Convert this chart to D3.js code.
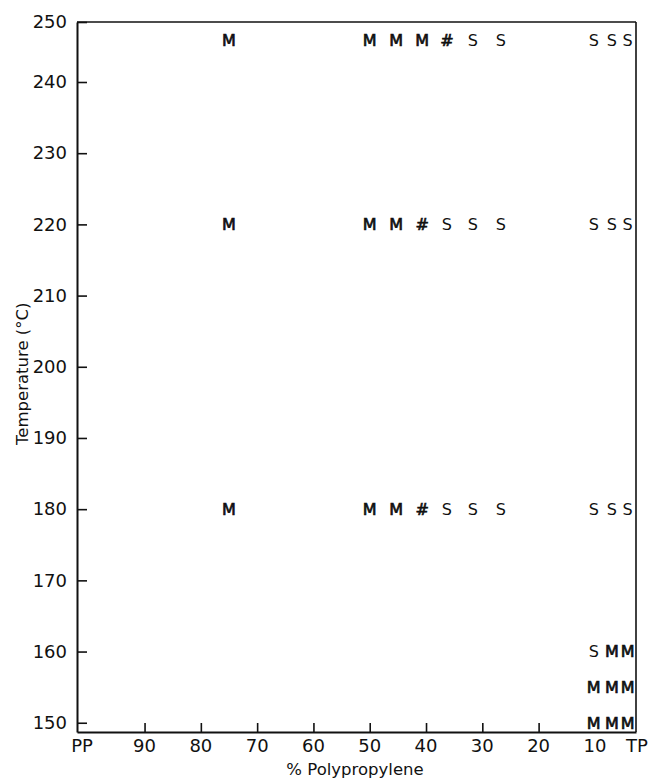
<!DOCTYPE html>
<html>
<head>
<meta charset="utf-8">
<script src="https://cdn.jsdelivr.net/npm/d3@7"></script>
<style>
  body { margin: 0; background: #fff; }
  text { font-family: "DejaVu Sans", sans-serif; fill: #111; }
</style>
</head>
<body>
<script>
// % polypropylene of each blend column (PP = 100 on the left, TP = 0 on the right)
const compositions = [75, 50, 45.3, 40.7, 36.3, 31.7, 26.7, 10.2, 7, 4.2];
// temperature of each row of symbols (°C)
const temperatures = [247, 220, 180, 160, 155, 150];
// symbol drawn at each composition, one list per temperature row ("" = nothing)
const row247 = ["M", "M", "M", "M", "#", "S", "S", "S", "S", "S"];
const row220 = ["M", "M", "M", "#", "S", "S", "S", "S", "S", "S"];
const row180 = ["M", "M", "M", "#", "S", "S", "S", "S", "S", "S"];
const row160 = ["", "", "", "", "", "", "", "S", "M", "M"];
const row155 = ["", "", "", "", "", "", "", "M", "M", "M"];
const row150 = ["", "", "", "", "", "", "", "M", "M", "M"];
const rows = [row247, row220, row180, row160, row155, row150];

const xTicks = [90, 80, 70, 60, 50, 40, 30, 20];
const xLabels = ["90", "80", "70", "60", "50", "40", "30", "20", "10"];
const yTicks = [150, 160, 170, 180, 190, 200, 210, 220, 230, 240, 250];

const W = 651, H = 779;
const mLeft = 77, mRight = 636, mTop = 22, mBottom = 732;

const svg = d3.select("body").append("svg")
    .attr("width", W).attr("height", H)
    .attr("xmlns", "http://www.w3.org/2000/svg");

const x = d3.scaleLinear().domain([102, 2.7]).range([mLeft, mRight]);
const y = d3.scaleLinear().domain([148.7, 240, 250]).range([mBottom, 82, mTop]);

// frame: top and right sides
svg.append("line").attr("x1", mLeft).attr("x2", mRight).attr("y1", mTop).attr("y2", mTop)
    .attr("stroke", "#111").attr("stroke-width", 1.6);
svg.append("line").attr("x1", mRight).attr("x2", mRight).attr("y1", mTop).attr("y2", mBottom)
    .attr("stroke", "#111").attr("stroke-width", 1.6);

// left axis, ticks pointing inward
const yAxis = svg.append("g").attr("transform", `translate(${mLeft},0)`)
    .call(d3.axisLeft(y).tickValues(yTicks).tickSizeInner(-10).tickSizeOuter(0).tickPadding(10)
        .tickFormat(d3.format("d")));
yAxis.select(".domain").attr("stroke", "#111").attr("stroke-width", 2);
yAxis.selectAll(".tick line").attr("stroke", "#111").attr("stroke-width", 1.6);
yAxis.selectAll(".tick text").attr("font-size", 18).attr("font-family", "DejaVu Sans");

// bottom axis, ticks pointing inward
const xAxis = svg.append("g").attr("transform", `translate(0,${mBottom})`)
    .call(d3.axisBottom(x).tickValues(xTicks).tickSizeInner(-9).tickSizeOuter(0).tickFormat(() => ""));
xAxis.select(".domain").attr("stroke", "#111").attr("stroke-width", 2);
xAxis.selectAll(".tick line").attr("stroke", "#111").attr("stroke-width", 1.6);

// bottom labels: PP at the left edge, TP at the right edge, numbers in between
const allLabels = [{ t: "PP", px: mLeft + 5 }]
    .concat(xLabels.map(d => ({ t: d, px: x(+d) })))
    .concat([{ t: "TP", px: mRight + 1 }]);
svg.append("g").selectAll("text").data(allLabels).join("text")
    .attr("x", d => d.px).attr("y", mBottom + 20)
    .attr("text-anchor", "middle")
    .attr("font-size", 18)
    .text(d => d.t);

// axis titles
svg.append("text")
    .attr("x", 355).attr("y", 775)
    .attr("text-anchor", "middle").attr("font-size", 16.5)
    .text("% Polypropylene");
svg.append("text")
    .attr("transform", `translate(28,${y(200) + 7}) rotate(-90)`)
    .attr("text-anchor", "middle").attr("font-size", 16.5)
    .text("Temperature (°C)");

// phase symbols
const points = rows.flatMap((row, r) =>
    row.map((s, c) => ({ s, t: temperatures[r], p: compositions[c] })).filter(d => d.s));

svg.append("g").selectAll("text").data(points).join("text")
    .attr("x", d => x(d.p)).attr("y", d => y(d.t))
    .attr("dy", "0.36em")
    .attr("text-anchor", "middle")
    .attr("font-size", 16)
    .attr("stroke", d => d.s === "S" ? "none" : "#111")
    .attr("stroke-width", 0.7)
    .text(d => d.s);
</script>
</body>
</html>
